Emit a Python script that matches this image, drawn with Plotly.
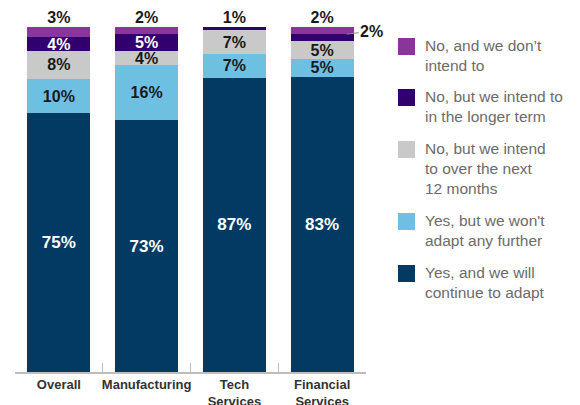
import plotly.graph_objects as go

categories = ["Overall", "Manufacturing", "Tech<br>Services", "Financial<br>Services"]
continue_adapt = [75, 73, 87, 83]
wont_adapt_further = [10, 16, 7, 5]
next_12_months = [8, 4, 7, 5]
longer_term = [4, 5, 1, 2]
dont_intend = [3, 2, 0, 2]

series = [
    ("Yes, and we will<br>continue to adapt", continue_adapt, "#023a63", "white"),
    ("Yes, but we won't<br>adapt any further", wont_adapt_further, "#6dc0e2", "#1a1a1a"),
    ("No, but we intend<br>to over the next<br>12 months", next_12_months, "#c9c9c9", "#1a1a1a"),
    ("No, but we intend to<br>in the longer term", longer_term, "#32006e", "white"),
    ("No, and we don’t<br>intend to", dont_intend, "#8a359c", "white"),
]

FONT = "Liberation Sans, Arial, sans-serif"
BAR_W = 0.72
totals = [sum(s[1][i] for s in series) for i in range(len(categories))]

# decide where labels go
top_labels = []
callouts = []
inside = {name: [] for name, *_ in series}
for i in range(len(categories)):
    top_idx = max(k for k, s in enumerate(series) if s[1][i] > 0)
    for k, (name, vals, _, _) in enumerate(series):
        v = vals[i]
        if k == top_idx:
            inside[name].append("")
            top_labels.append(f"{v}%")
        elif v >= 3:
            inside[name].append(f"{v}%")
        elif v > 0:
            inside[name].append("")
            callouts.append((i, k, v))
        else:
            inside[name].append("")

fig = go.Figure()
for name, vals, color, tcolor in series:
    big = max(vals) > 50
    fig.add_trace(go.Bar(
        x=categories, y=vals, name=name, width=BAR_W,
        marker=dict(color=color, line=dict(width=0)),
        text=inside[name], textposition="inside", insidetextanchor="middle",
        constraintext="none",
        textfont=dict(family=FONT, size=17 if big else 16, color=tcolor, weight="bold"),
        hoverinfo="skip", showlegend=False,
    ))

fig.add_trace(go.Scatter(
    x=categories, y=[100] * len(categories), mode="text", text=top_labels,
    textposition="top center", cliponaxis=False, showlegend=False,
    textfont=dict(family=FONT, size=16, color="#1a1a1a", weight="bold"),
    hoverinfo="skip",
))

for i, k, v in callouts:
    cum_top = sum(series[j][1][i] for j in range(k + 1)) / totals[i] * 100
    fig.add_annotation(
        x=i + 0.28, y=cum_top, xref="x", yref="y", text=f"{v}%",
        showarrow=True, arrowhead=0, arrowwidth=1, arrowcolor="#888",
        ax=25, ay=-3, standoff=0,
        font=dict(family=FONT, size=16, color="#1a1a1a", weight="bold"),
    )

# custom legend (top to bottom)
legend_tops = [38, 89, 141, 213, 265]
PLOT_TOP = 27
for (name, vals, color, _), top in zip(reversed(series), legend_tops):
    off = PLOT_TOP - top
    fig.add_shape(type="rect", xref="paper", yref="paper",
                  xsizemode="pixel", ysizemode="pixel", xanchor=1, yanchor=1,
                  x0=32, x1=49, y0=off, y1=off - 17,
                  fillcolor=color, line=dict(width=0))
    fig.add_annotation(xref="paper", yref="paper", x=1, y=1, xshift=57, yshift=off + 3,
                       xanchor="left", yanchor="top", align="left", showarrow=False,
                       text=name, font=dict(family=FONT, size=15.5, color="#6b6b6b"))

fig.update_layout(
    width=580, height=405, barmode="stack", barnorm="percent",
    margin=dict(l=15, r=214, t=27, b=33, autoexpand=False),
    plot_bgcolor="white", paper_bgcolor="white",
    xaxis=dict(range=[-0.5, 3.5], showline=True, linecolor="#bdbdbd", linewidth=1.5,
               ticks="inside", tickson="boundaries", ticklen=9, tickcolor="#bdbdbd",
               tickangle=0, automargin=False,
               tickfont=dict(family=FONT, size=13, color="#333", weight="bold"),
               showgrid=False, zeroline=False),
    yaxis=dict(range=[0, 100], visible=False, showgrid=False),
)

fig.write_html("out.html")
